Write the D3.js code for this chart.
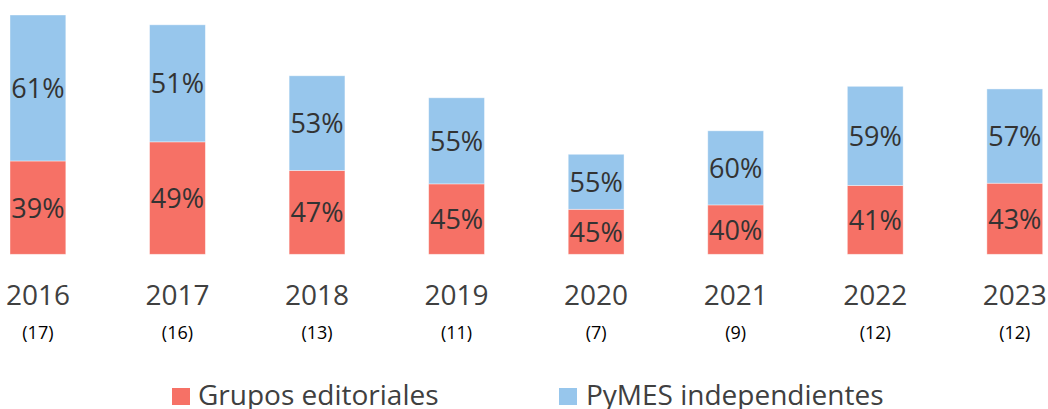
<!DOCTYPE html>
<html>
<head>
<meta charset="utf-8">
<script src="https://cdn.jsdelivr.net/npm/d3@7"></script>
<style>
  body { margin: 0; background: #fff; }
  svg { display: block; font-family: "Open Sans", sans-serif; }
</style>
</head>
<body>
<script>
// datos
const years = ["2016", "2017", "2018", "2019", "2020", "2021", "2022", "2023"];
const counts = ["(17)", "(16)", "(13)", "(11)", "(7)", "(9)", "(12)", "(12)"];
const totals = [100, 95.9, 74.6, 65.4, 41.8, 51.6, 70.2, 69.1]; // altura relativa (2016 = 100)
const grupos = [39, 49, 47, 45, 45, 40, 41, 43];
const pymes = [61, 51, 53, 55, 55, 60, 59, 57];
const seriesNames = ["Grupos editoriales", "PyMES independientes"];
const colors = ["#F67166", "#97C6EC"];

const w = 1048;
const h = 409;

const svg = d3.select("body").append("svg")
  .attr("width", w)
  .attr("height", h);

const xScale = d3.scaleBand()
  .domain(years)
  .range([10, 1042.7])
  .paddingInner(0.6)
  .paddingOuter(0);

const yScale = d3.scaleLinear()
  .domain([0, 100])
  .range([254.3, 15]);

const rows = years.map((y, i) => ({
  year: y,
  grupos: totals[i] * grupos[i] / 100,
  pymes: totals[i] * pymes[i] / 100,
  pg: grupos[i],
  pp: pymes[i]
}));

const stack = d3.stack().keys(["grupos", "pymes"]);
const layers = stack(rows);

const g = svg.append("g");

layers.forEach((layer, li) => {
  g.selectAll(".bar" + li)
    .data(layer)
    .enter()
    .append("rect")
    .attr("class", "bar" + li)
    .attr("x", d => xScale(d.data.year))
    .attr("width", xScale.bandwidth())
    .attr("y", d => yScale(d[1]))
    .attr("height", d => yScale(d[0]) - yScale(d[1]))
    .attr("fill", colors[li])
    .attr("stroke", "#fff")
    .attr("stroke-opacity", 0.5)
    .attr("stroke-width", 0.8);

  g.selectAll(".lab" + li)
    .data(layer)
    .enter()
    .append("text")
    .attr("x", d => xScale(d.data.year) + xScale.bandwidth() / 2)
    .attr("y", d => (yScale(d[0]) + yScale(d[1])) / 2 + 10)
    .attr("text-anchor", "middle")
    .attr("font-size", 27)
    .attr("fill", "#333")
    .text(d => (li === 0 ? d.data.pg : d.data.pp) + "%");
});

// eje x
const xAxis = svg.append("g")
  .attr("transform", "translate(0,305)")
  .call(d3.axisBottom(xScale).tickSize(0).tickPadding(0).tickFormat(() => ""));
xAxis.select(".domain").remove();

svg.selectAll(".year")
  .data(years)
  .enter()
  .append("text")
  .attr("x", d => xScale(d) + xScale.bandwidth() / 2)
  .attr("y", 305)
  .attr("text-anchor", "middle")
  .attr("font-size", 28)
  .attr("fill", "#404040")
  .text(d => d);

svg.selectAll(".count")
  .data(counts)
  .enter()
  .append("text")
  .attr("x", (d, i) => xScale(years[i]) + xScale.bandwidth() / 2)
  .attr("y", 338.5)
  .attr("text-anchor", "middle")
  .attr("font-size", 18)
  .attr("fill", "#000")
  .text(d => d);

// leyenda
const legendX = [172, 559];
const legend = svg.selectAll(".legend")
  .data(seriesNames)
  .enter()
  .append("g")
  .attr("transform", (d, i) => "translate(" + legendX[i] + ",388)");

legend.append("rect")
  .attr("width", 18)
  .attr("height", 17)
  .attr("fill", (d, i) => colors[i]);

legend.append("text")
  .attr("x", (d, i) => i === 0 ? 26 : 27)
  .attr("y", 17)
  .attr("font-size", 28)
  .attr("fill", "#404040")
  .text(d => d);
</script>
</body>
</html>
